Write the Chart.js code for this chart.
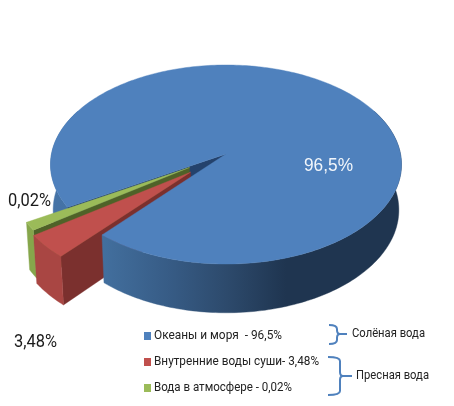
<!DOCTYPE html>
<html><head><meta charset="utf-8">
<style>html,body{margin:0;padding:0;background:#fff;overflow:hidden}canvas{display:block;filter:blur(0.5px)}</style>
<script src="https://cdn.jsdelivr.net/npm/chart.js@4"></script>
</head><body><canvas id="c" width="454" height="406"></canvas>
<script>
const categories = ["Океаны и моря", "Внутренние воды суши", "Вода в атмосфере"];
// Slice shares as drawn in the picture (the thin slices are drawn larger than their captions state)
const sliceShares = [94.9, 3.8, 1.3];
const explode = [0, 47, 43];
const legendLabels = ["Океаны и моря  - 96,5%", "Внутренние воды суши- 3,48%", "Вода в атмосфере - 0,02%"];
const dataLabels = ["96,5%", "3,48%", "0,02%"];
const groupLabels = ["Солёная вода", "Пресная вода"];
const topColors = ["#4f81bd", "#c0504d", "#9bbb59"];
const wallColors = ["#3f6b9c", "#a94643", "#86a64b"];
const cutColors = ["#24426c", "#7b302e", "#4f6228"];

const SQUASH = 0.564, PERSP = 0.1055, DEPTH = 46, CONV = 0.015;

const pie3d = {
  id: "pie3d",
  beforeDatasetDraw(chart) {
    const ctx = chart.ctx, els = chart.getDatasetMeta(0).data;
    const R = els[0].outerRadius, cx = els[0].x, cy = els[0].y;
    const P = (X, Y, z) => {
      const w = 1 - PERSP * Y + CONV * z;
      return [cx + R * X / w, cy + (SQUASH * R * Y + DEPTH * z) / w];
    };
    const geo = el => {
      const mid = (el.startAngle + el.endAngle) / 2, off = (el.options.offset || 0) / R;
      return { ox: Math.cos(mid) * off, oy: Math.sin(mid) * off };
    };
    const rim = (g, a0, a1, z) => {
      const n = Math.max(2, Math.ceil(Math.abs(a1 - a0) / 0.02)), pts = [];
      for (let i = 0; i <= n; i++) {
        const a = a0 + (a1 - a0) * i / n;
        pts.push(P(g.ox + Math.cos(a), g.oy + Math.sin(a), z));
      }
      return pts;
    };
    const fill = (pts, color) => {
      ctx.beginPath();
      pts.forEach((p, i) => i ? ctx.lineTo(p[0], p[1]) : ctx.moveTo(p[0], p[1]));
      ctx.closePath();
      ctx.fillStyle = color;
      ctx.fill();
      ctx.strokeStyle = color;
      ctx.lineWidth = 0.4;
      ctx.stroke();
    };
    const wall = (g, a0, a1, color) => fill(rim(g, a0, a1, 0).concat(rim(g, a0, a1, 1).reverse()), color);
    const cutWall = (g, a, color) => fill([P(g.ox, g.oy, 0), ...rim(g, a, a, 0).slice(0, 1), ...rim(g, a, a, 1).slice(0, 1), P(g.ox, g.oy, 1)], color);
    const top = (g, a0, a1, color) => fill([P(g.ox, g.oy, 0), ...rim(g, a0, a1, 0)], color);

    const blue = els[0], bg = geo(blue);
    const grad = ctx.createLinearGradient(0, 0, 454, 0);
    [[0, "#4877b0"], [0.22, "#43709f"], [0.37, "#375c86"], [0.5, "#2d4a6c"], [0.63, "#1f3550"], [1, "#1f3550"]]
      .forEach(s => grad.addColorStop(s[0], s[1]));
    // back part of the blue slice, which the exploded slices stand in front of
    wall(bg, blue.startAngle, Math.PI * 1.15, grad);
    cutWall(bg, blue.startAngle, cutColors[0]);
    // exploded slices
    [2, 1].forEach(i => {
      const el = els[i], g = geo(el);
      cutWall(g, el.startAngle, cutColors[i]);
      wall(g, el.startAngle, el.endAngle, wallColors[i]);
      top(g, el.startAngle, el.endAngle, topColors[i]);
    });
    // front part of the blue slice
    wall(bg, Math.PI * 1.85, blue.endAngle, grad);
    top(bg, blue.startAngle, blue.endAngle, topColors[0]);
    return false;
  },
  afterDraw(chart) {
    const ctx = chart.ctx;
    ctx.save();
    ctx.textBaseline = "middle";
    ctx.textAlign = "left";
    // value captions
    ctx.font = "19px 'Liberation Sans'";
    ctx.fillStyle = "#f2f6fb";
    ctx.fillText(dataLabels[0], 304, 166, 49);
    ctx.font = "18.5px Roboto";
    ctx.fillStyle = "#1a1a1a";
    ctx.fillText(dataLabels[1], 14, 342, 43);
    ctx.fillText(dataLabels[2], 8, 201, 43);
    // legend
    const rows = [336, 362, 388], widths = [128, 165, 138];
    legendLabels.forEach((t, i) => {
      ctx.fillStyle = topColors[i];
      ctx.fillRect(144, rows[i] - 4, 7, 8);
      ctx.fillStyle = "#222";
      ctx.font = "13.5px Roboto";
      ctx.fillText(t, 154, rows[i], widths[i]);
    });
    // group captions
    ctx.font = "13.5px Roboto";
    ctx.fillStyle = "#222";
    ctx.fillText(groupLabels[0], 352, 334, 73);
    ctx.fillText(groupLabels[1], 356, 376, 73);
    // curly brackets
    ctx.strokeStyle = "#4f81bd";
    ctx.lineWidth = 2;
    const brace = (x0, x1, x2, y0, y1, y2) => {
      ctx.beginPath();
      ctx.moveTo(x0, y0);
      ctx.quadraticCurveTo(x1, y0, x1, y0 + 4);
      ctx.lineTo(x1, y1 - 4);
      ctx.quadraticCurveTo(x1, y1, x1 + 3, y1);
      ctx.lineTo(x2, y1);
      ctx.moveTo(x1 + 3, y1);
      ctx.quadraticCurveTo(x1, y1, x1, y1 + 4);
      ctx.lineTo(x1, y2 - 4);
      ctx.quadraticCurveTo(x1, y2, x0, y2);
      ctx.stroke();
    };
    brace(329, 337, 347, 325, 334, 344);
    brace(328, 340, 352, 357, 376, 395);
    ctx.restore();
  }
};

new Chart(document.getElementById("c"), {
  type: "pie",
  data: {
    labels: categories,
    datasets: [{ data: sliceShares, backgroundColor: topColors, offset: explode, borderWidth: 0, clip: false }]
  },
  options: {
    responsive: false,
    animation: false,
    rotation: 239.2,
    radius: 174.5,
    layout: { padding: { left: 0, right: 2, top: 0, bottom: 98 } },
    plugins: { legend: { display: false }, tooltip: { enabled: false } }
  },
  plugins: [pie3d]
});
</script></body></html>
